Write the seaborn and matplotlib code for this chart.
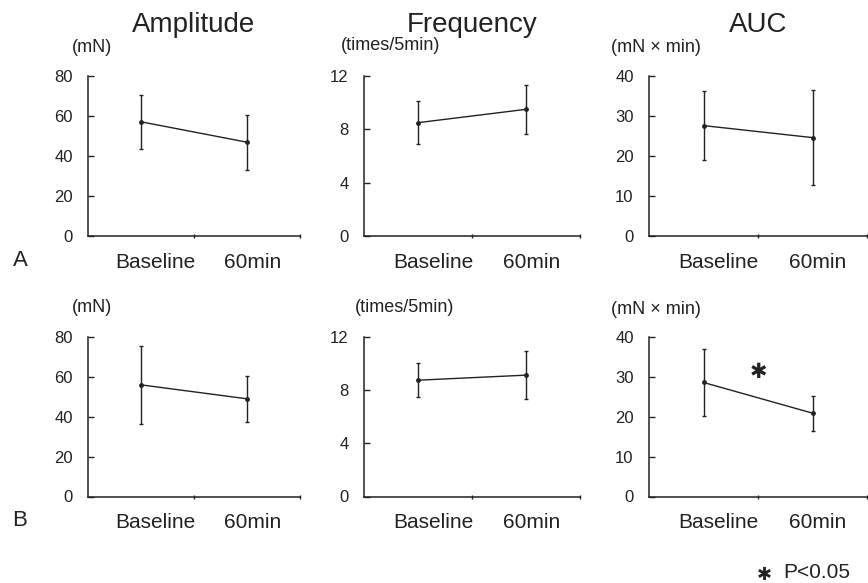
import numpy as np
import pandas as pd
import matplotlib.pyplot as plt
import seaborn as sns

# %% data
time_points = ['Baseline', '60min']
titles = ['Amplitude', 'Frequency', 'AUC']
units = ['(mN)', '(times/5min)', '(mN × min)']
y_max = [80, 12, 40]
y_ticks = [[0, 20, 40, 60, 80], [0, 4, 8, 12], [0, 10, 20, 30, 40]]
row_labels = ['A', 'B']

amp_a_mean = [57.1, 46.9]
amp_a_sd = [13.5, 13.8]
freq_a_mean = [8.5, 9.5]
freq_a_sd = [1.6, 1.85]
auc_a_mean = [27.6, 24.6]
auc_a_sd = [8.6, 11.95]

amp_b_mean = [56.0, 49.0]
amp_b_sd = [19.6, 11.5]
freq_b_mean = [8.75, 9.13]
freq_b_sd = [1.3, 1.8]
auc_b_mean = [28.6, 20.9]
auc_b_sd = [8.5, 4.4]

sig_level = 31  # height of the * in panel B / AUC

rows = []
for row, means, sds in [('A', [amp_a_mean, freq_a_mean, auc_a_mean], [amp_a_sd, freq_a_sd, auc_a_sd]),
                        ('B', [amp_b_mean, freq_b_mean, auc_b_mean], [amp_b_sd, freq_b_sd, auc_b_sd])]:
    for k, t in enumerate(titles):
        for i, tp in enumerate(time_points):
            rows.append({'row': row, 'measure': t, 'time': tp, 'idx': i,
                         'mean': means[k][i], 'sd': sds[k][i]})
df = pd.DataFrame(rows)

# %% styling
sns.set_style('white')
plt.rcParams['font.family'] = ['Liberation Sans', 'DejaVu Sans']
ink = '#222222'

W, H = 868, 583
fig = plt.figure(figsize=(W / 100, H / 100), dpi=100)

def fx(px):
    return px / W

def fy(py):
    return 1 - py / H

col_left = [88, 364, 649]
col_right = [300, 580, 867]
row_top = [76, 337]
row_bot = [236, 496.5]
unit_pos = [[(92, 48), (391, 45), (656, 48)],
            [(92, 308), (405, 308), (656, 309)]]

for r, row in enumerate(row_labels):
    for k, t in enumerate(titles):
        ax = fig.add_axes([fx(col_left[k]), fy(row_bot[r]),
                           fx(col_right[k] - col_left[k]),
                           (row_bot[r] - row_top[r]) / H])
        sub = df[(df['row'] == row) & (df['measure'] == t)]
        xs = sub['idx'] + 0.5
        sns.lineplot(x=xs, y=sub['mean'], ax=ax, color=ink, lw=1,
                     marker='o', markersize=3.5, markeredgewidth=0)
        ax.errorbar(xs, sub['mean'], yerr=sub['sd'], fmt='none',
                    ecolor=ink, elinewidth=1, capsize=1.5, capthick=1)

        ax.set_xlim(0, 2)
        ax.set_ylim(0, y_max[k])
        ax.set_xlabel('')
        ax.set_ylabel('')
        for s in ['top', 'right']:
            ax.spines[s].set_visible(False)
        for s in ['left', 'bottom']:
            ax.spines[s].set_color(ink)
            ax.spines[s].set_linewidth(1.1)

        ax.set_yticks(y_ticks[k])
        ax.tick_params(axis='y', direction='in', length=4, width=1,
                       color=ink, labelsize=12, labelcolor=ink, pad=11,
                       left=True)
        ax.set_xticks([1, 2])
        ax.set_xticklabels([])
        ax.tick_params(axis='x', which='major', direction='inout', length=3,
                       width=1, color=ink, bottom=True)
        ax.set_xticks([0.64, 1.55], minor=True)
        ax.set_xticklabels(time_points, minor=True)
        ax.tick_params(axis='x', which='minor', length=0, labelsize=15,
                       labelcolor=ink, pad=12)

        ux, uy = unit_pos[r][k]
        fig.text(fx(ux), fy(uy), units[k], ha='center', va='center',
                 fontsize=13, color=ink)
        if r == 0:
            fig.text(fx((col_left[k] + col_right[k]) / 2), fy(25), t,
                     ha='center', va='center', fontsize=20, color=ink)
        if row == 'B' and t == 'AUC':
            ax.text(1.0, sig_level, '✱', ha='center', va='center',
                    fontsize=15, color=ink)

fig.text(fx(20), fy(260), 'A', ha='center', va='center', fontsize=16, color=ink)
fig.text(fx(20), fy(521), 'B', ha='center', va='center', fontsize=16, color=ink)

fig.text(fx(764), fy(575), '✱', ha='center', va='center', fontsize=13, color=ink)
fig.text(fx(783), fy(572), 'P<0.05', ha='left', va='center', fontsize=15, color=ink)

plt.savefig('out.png', dpi=100)
